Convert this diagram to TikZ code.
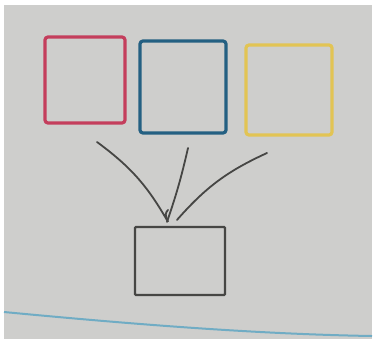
\documentclass[tikz,border=0pt]{standalone}
\usetikzlibrary{arrows.meta}

\definecolor{board}{RGB}{206,206,204}
\definecolor{redink}{RGB}{196,62,92}
\definecolor{blueink}{RGB}{36,96,130}
\definecolor{yellowink}{RGB}{226,196,84}
\definecolor{blackink}{RGB}{70,70,68}
\definecolor{edgeblue}{RGB}{112,172,196}

\begin{document}
\begin{tikzpicture}[
        x=1pt, y=-1pt,
        box/.style={
            draw,
            rounded corners=3pt,
            line width=3.2pt,
            inner sep=0pt
        },
        line/.style={draw=blackink, line width=1.8pt, line cap=round}
    ]

        % tabule
        \fill[white] (0,0) rectangle (374,341);
        \fill[board] (4,5) rectangle (372,339);
        \draw[edgeblue, line width=2pt] (4,312) .. controls (120,323) and (250,334) .. (372,336);

        % 1. řada
        \node[box, draw=redink, minimum width=80pt, minimum height=86pt] (red) at (85,80) {};
        \node[box, draw=blueink, minimum width=86pt, minimum height=92pt] (blue) at (183,87) {};
        \node[box, draw=yellowink, minimum width=86pt, minimum height=90pt] (yellow) at (289,90) {};

        % 2. řada
        \node[box, draw=blackink, line width=2.2pt, rounded corners=1pt,
              minimum width=90pt, minimum height=68pt] (black) at (180,261) {};

        % začátky spojnic
        \coordinate (redend) at (97,142);
        \coordinate (blueend) at (188,148);
        \coordinate (yellowend) at (267,153);

        % spojnice
        \draw[line] (redend) to[bend left=12] ([xshift=-12pt,yshift=4pt]black.north)
            .. controls ([xshift=-15pt,yshift=12pt]black.north) .. ([xshift=-12pt,yshift=16pt]black.north);
        \draw[line] (blueend) to[bend left=3] ([xshift=-13pt,yshift=4pt]black.north);
        \draw[line] (yellowend) to[bend right=12] ([xshift=-3pt,yshift=6pt]black.north);

    \end{tikzpicture}
\end{document}
